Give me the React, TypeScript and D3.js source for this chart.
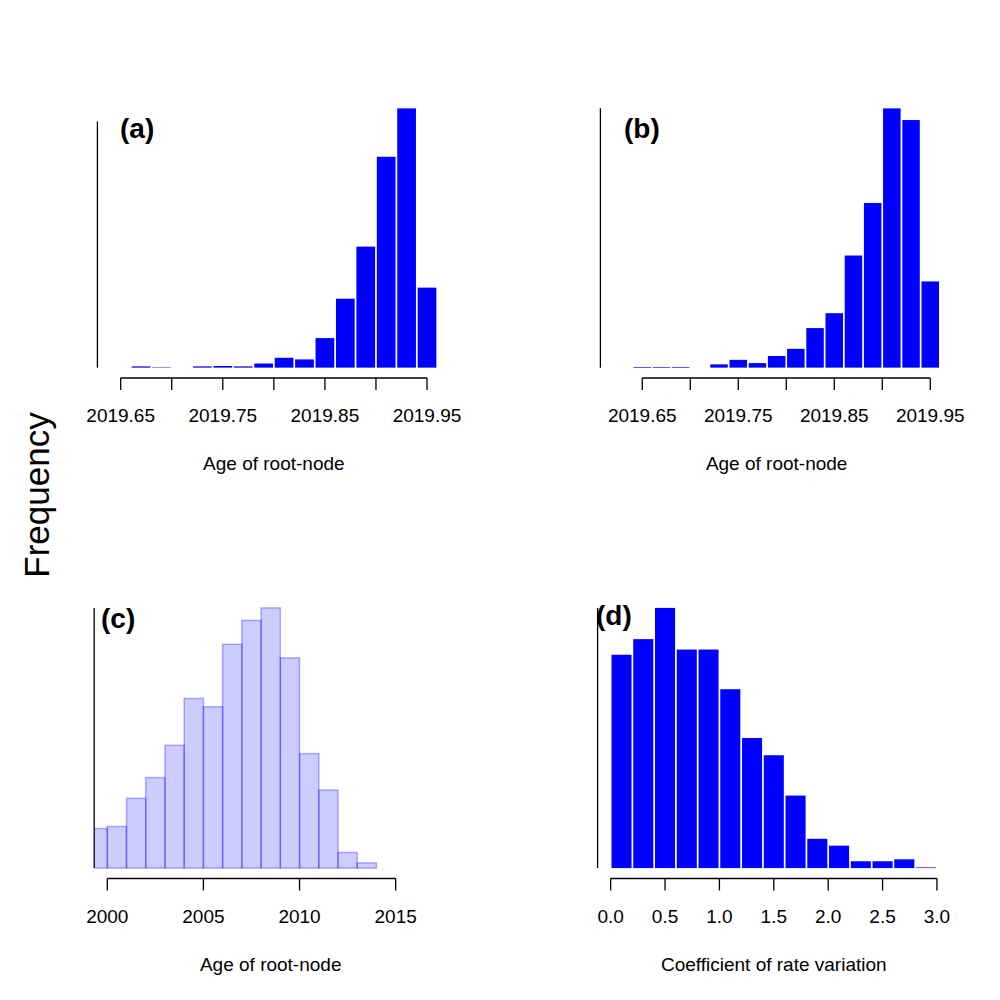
import React from "react";
import * as d3 from "d3";

// ---------- data ----------
// (a) Age of root-node
const aCounts = [3, 1, 0, 3, 4, 3, 10, 24, 20, 72, 168, 295, 514, 632, 195];
const aBreakStart = 2019.66;
const aBinWidth = 0.02;
const aXlim = [2019.64, 2019.96];
const aTicks = [2019.65, 2019.7, 2019.75, 2019.8, 2019.85, 2019.9, 2019.95];
const aTickLabels = ["2019.65", "", "2019.75", "", "2019.85", "", "2019.95"];
const aYTop = 600;

// (b) Age of root-node
const bCounts = [1, 1, 1, 0, 5, 12, 7, 18, 29, 61, 84, 173, 254, 400, 382, 133];
const bBreakStart = 2019.64;
const bBinWidth = 0.02;
const bXlim = [2019.62, 2019.96];
const bTicks = [2019.65, 2019.7, 2019.75, 2019.8, 2019.85, 2019.9, 2019.95];
const bTickLabels = ["2019.65", "", "2019.75", "", "2019.85", "", "2019.95"];
const bYTop = 400;

// (c) Age of root-node
const cCounts = [38, 40, 67, 87, 118, 163, 155, 215, 238, 250, 202, 110, 75, 15, 5];
const cBreakStart = 1999;
const cBinWidth = 1;
const cXlim = [2000, 2017];
const cTicks = [2000, 2005, 2010, 2015];
const cTickLabels = ["2000", "2005", "2010", "2015"];
const cYTop = 250;

// (d) Coefficient of rate variation
const dCounts = [656, 704, 800, 672, 672, 550, 400, 347, 223, 90, 69, 21, 21, 27, 2];
const dBreakStart = 0;
const dBinWidth = 0.2;
const dXlim = [0, 3];
const dTicks = [0, 0.5, 1, 1.5, 2, 2.5, 3];
const dTickLabels = ["0.0", "0.5", "1.0", "1.5", "2.0", "2.5", "3.0"];
const dYTop = 800;

const FONT = "'Liberation Sans', Arial, Helvetica, sans-serif";

type PanelProps = {
  id: string;
  left: number;
  right: number;
  top: number;
  bottom: number;
  counts: number[];
  breakStart: number;
  binWidth: number;
  xlim: number[];
  ticks: number[];
  tickLabels: string[];
  yTop: number;
  fill: string;
  stroke: string | null;
  title: string;
  tag: string;
  tagX: number;
  tagY: number;
};

function Panel(p: PanelProps) {
  const r = p.xlim[1] - p.xlim[0];
  const x = d3
    .scaleLinear()
    .domain([p.xlim[0] - 0.04 * r, p.xlim[1] + 0.04 * r])
    .range([p.left, p.right]);
  const maxC = d3.max(p.counts) as number;
  const y = d3
    .scaleLinear()
    .domain([-0.04 * maxC, 1.04 * maxC])
    .range([p.bottom, p.top]);
  const clipId = "clip-" + p.id;
  const gap = p.stroke ? 0 : 0.85;
  return (
    <g>
      <defs>
        <clipPath id={clipId}>
          <rect x={p.left} y={p.top} width={p.right - p.left} height={p.bottom - p.top} />
        </clipPath>
      </defs>
      <g clipPath={`url(#${clipId})`}>
        {p.counts.map((c, i) => {
          if (c <= 0) return null;
          const x0 = p.breakStart + i * p.binWidth;
          const x1 = x0 + p.binWidth;
          return (
            <rect
              key={i}
              x={x(x0) + gap}
              width={x(x1) - x(x0) - 2 * gap}
              y={y(c)}
              height={y(0) - y(c)}
              fill={p.fill}
              stroke={p.stroke || "none"}
              strokeWidth={1.5}
            />
          );
        })}
      </g>
      {/* y axis line */}
      <line x1={p.left} x2={p.left} y1={y(0)} y2={y(p.yTop)} stroke="#000" strokeWidth={1.3} />
      {/* x axis */}
      <line
        x1={x(p.ticks[0])}
        x2={x(p.ticks[p.ticks.length - 1])}
        y1={p.bottom}
        y2={p.bottom}
        stroke="#000"
        strokeWidth={1.3}
      />
      {p.ticks.map((t, i) => (
        <g key={i}>
          <line x1={x(t)} x2={x(t)} y1={p.bottom} y2={p.bottom + 12} stroke="#000" strokeWidth={1.3} />
          {p.tickLabels[i] ? (
            <text x={x(t)} y={p.bottom + 44} textAnchor="middle" fontSize={19} fontFamily={FONT}>
              {p.tickLabels[i]}
            </text>
          ) : null}
        </g>
      ))}
      <text
        x={(p.left + p.right) / 2}
        y={p.bottom + 92}
        textAnchor="middle"
        fontSize={19}
        fontFamily={FONT}
      >
        {p.title}
      </text>
      <text x={p.tagX} y={p.tagY} fontSize={28} fontWeight="bold" fontFamily={FONT}>
        {p.tag}
      </text>
    </g>
  );
}

export default function App() {
  const solid = "#0000FF";
  const light = "rgba(0,0,255,0.2)";
  const lightStroke = "rgba(0,0,255,0.3)";
  return (
    <svg
      width={1000}
      height={1000}
      style={{ position: "absolute", left: 0, top: 0, background: "#fff" }}
    >
      <rect x={0} y={0} width={1000} height={1000} fill="#fff" />
      <Panel
        id="a"
        left={97.4}
        right={450.3}
        top={98}
        bottom={378}
        counts={aCounts}
        breakStart={aBreakStart}
        binWidth={aBinWidth}
        xlim={aXlim}
        ticks={aTicks}
        tickLabels={aTickLabels}
        yTop={aYTop}
        fill={solid}
        stroke={null}
        title="Age of root-node"
        tag="(a)"
        tagX={120}
        tagY={138}
      />
      <Panel
        id="b"
        left={600.4}
        right={952.9}
        top={98}
        bottom={378}
        counts={bCounts}
        breakStart={bBreakStart}
        binWidth={bBinWidth}
        xlim={bXlim}
        ticks={bTicks}
        tickLabels={bTickLabels}
        yTop={bYTop}
        fill={solid}
        stroke={null}
        title="Age of root-node"
        tag="(b)"
        tagX={624}
        tagY={138}
      />
      <Panel
        id="c"
        left={94.2}
        right={447.2}
        top={597.5}
        bottom={878.5}
        counts={cCounts}
        breakStart={cBreakStart}
        binWidth={cBinWidth}
        xlim={cXlim}
        ticks={cTicks}
        tickLabels={cTickLabels}
        yTop={cYTop}
        fill={light}
        stroke={lightStroke}
        title="Age of root-node"
        tag="(c)"
        tagX={101}
        tagY={628}
      />
      <Panel
        id="d"
        left={597.6}
        right={950}
        top={597.5}
        bottom={878.5}
        counts={dCounts}
        breakStart={dBreakStart}
        binWidth={dBinWidth}
        xlim={dXlim}
        ticks={dTicks}
        tickLabels={dTickLabels}
        yTop={dYTop}
        fill={solid}
        stroke={null}
        title="Coefficient of rate variation"
        tag="(d)"
        tagX={596}
        tagY={625}
      />
      <text
        transform="translate(49,495) rotate(-90)"
        textAnchor="middle"
        fontSize={35}
        fontFamily={FONT}
      >
        Frequency
      </text>
    </svg>
  );
}
